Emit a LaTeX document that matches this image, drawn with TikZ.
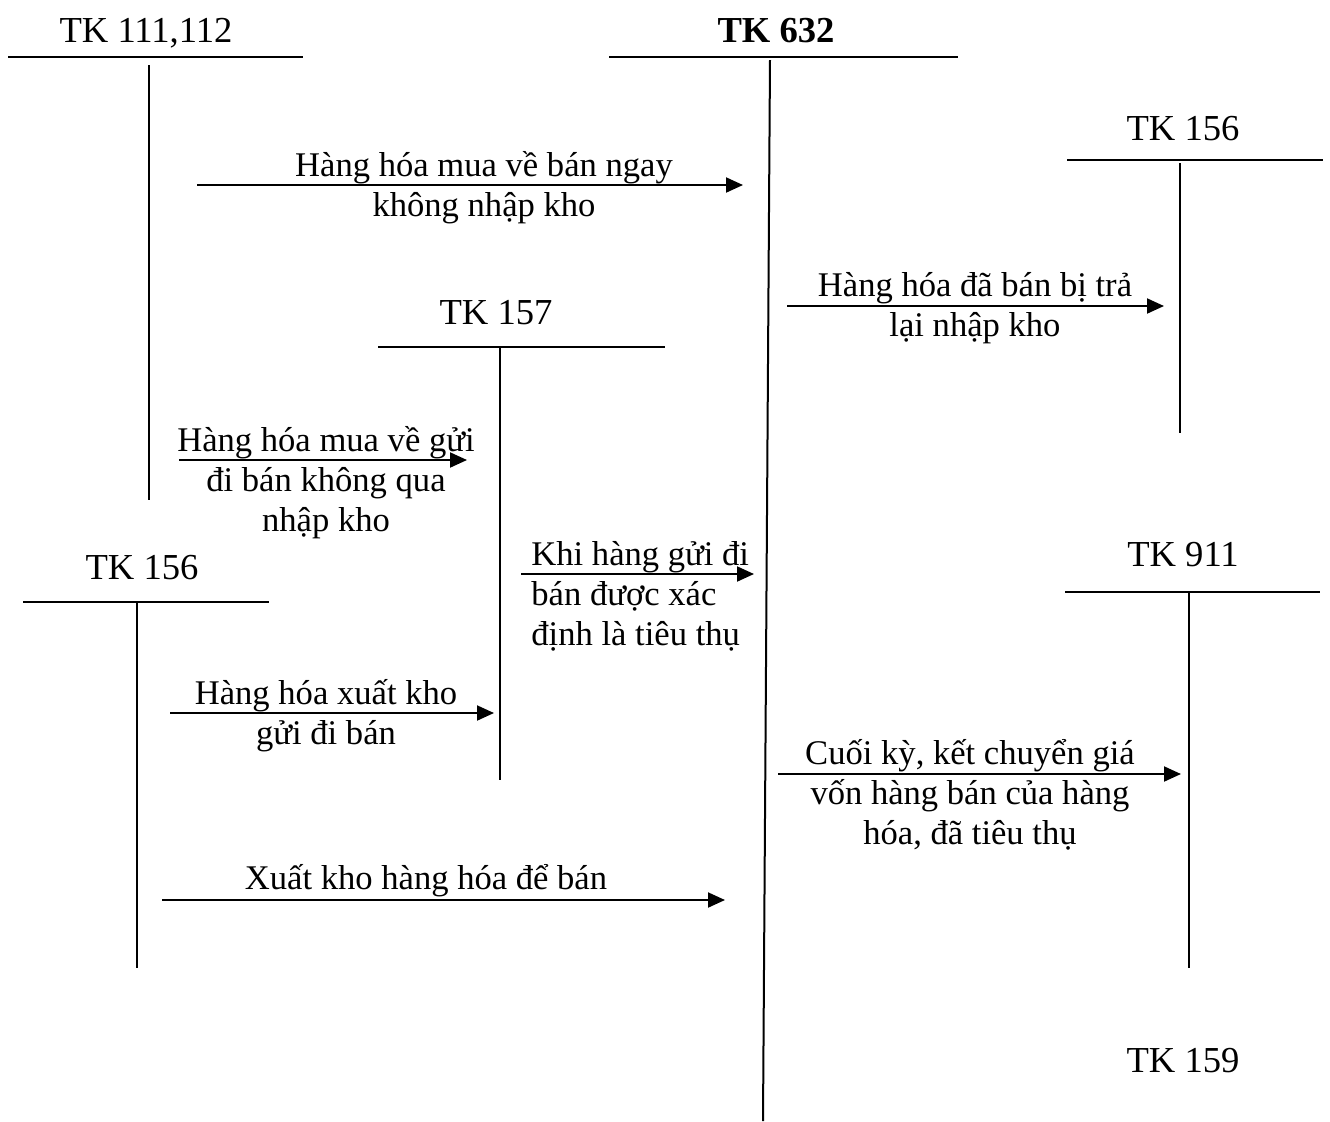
\documentclass[tikz,border=0pt]{standalone}
\usepackage{fontspec}
\setmainfont{Liberation Serif}
\usetikzlibrary{arrows.meta}
\begin{document}
\begin{tikzpicture}[x=0.5pt,y=-0.5pt,
  acc/.style={line width=1pt},
  flow/.style={line width=1pt,-{Triangle[length=8.5pt,width=7.5pt]}},
  tk/.style={font=\fontsize{18.3}{22}\selectfont,anchor=base,inner sep=0pt},
  lbl/.style={font=\fontsize{17.3}{20}\selectfont,anchor=base,inner sep=0pt,align=center},
  lbll/.style={font=\fontsize{17.3}{20}\selectfont,anchor=base west,inner sep=0pt,align=left}]
\useasboundingbox (0,0) rectangle (1330,1121);

% T-accounts
\node[tk] (tk111) at (146,42) {TK 111,112};
\draw[acc] (8,57) -- (303,57);
\draw[acc] (149,65) -- (149,500);

\node[tk,font=\fontsize{18.3}{22}\selectfont\bfseries] (tk632) at (776,42) {TK 632};
\draw[acc] (609,57) -- (958,57);
\draw[acc] (770,60) -- (763,1121);

\node[tk] (tk156a) at (1183,140) {TK 156};
\draw[acc] (1067,160) -- (1323,160);
\draw[acc] (1180,163) -- (1180,433);

\node[tk] (tk157) at (496,324) {TK 157};
\draw[acc] (378,347) -- (665,347);
\draw[acc] (500,347) -- (500,780);

\node[tk] (tk156b) at (142,579) {TK 156};
\draw[acc] (23,602) -- (269,602);
\draw[acc] (137,602) -- (137,968);

\node[tk] (tk911) at (1183,566) {TK 911};
\draw[acc] (1065,592) -- (1320,592);
\draw[acc] (1189,592) -- (1189,968);

\node[tk] (tk159) at (1183,1072) {TK 159};

% arrows (label anchors at the baseline of the last line)
\coordinate (a1s) at (197,185); \coordinate (a1e) at (743,185);
\draw[flow] (a1s) -- (a1e);
\node[lbl] (l1) at (484,216) {Hàng hóa mua về bán ngay\\không nhập kho};

\coordinate (a2s) at (787,306); \coordinate (a2e) at (1164,306);
\draw[flow] (a2s) -- (a2e);
\node[lbl] (l2) at (975,336) {Hàng hóa đã bán bị trả\\lại nhập kho};

\coordinate (a3s) at (179,460); \coordinate (a3e) at (467,460);
\draw[flow] (a3s) -- (a3e);
\node[lbl] (l3) at (326,531) {Hàng hóa mua về gửi\\đi bán không qua\\nhập kho};

\coordinate (a4s) at (521,574); \coordinate (a4e) at (754,574);
\draw[flow] (a4s) -- (a4e);
\node[lbll] (l4) at (531,645) {Khi hàng gửi đi\\bán được xác\\định là tiêu thụ};

\coordinate (a5s) at (170,713); \coordinate (a5e) at (494,713);
\draw[flow] (a5s) -- (a5e);
\node[lbl] (l5) at (326,744) {Hàng hóa xuất kho\\gửi đi bán};

\coordinate (a6s) at (778,774); \coordinate (a6e) at (1181,774);
\draw[flow] (a6s) -- (a6e);
\node[lbl] (l6) at (970,844) {Cuối kỳ, kết chuyển giá\\vốn hàng bán của hàng\\hóa, đã tiêu thụ};

\coordinate (a7s) at (162,900); \coordinate (a7e) at (725,900);
\draw[flow] (a7s) -- (a7e);
\node[lbl] (l7) at (426,889) {Xuất kho hàng hóa để bán};
\end{tikzpicture}
\end{document}
